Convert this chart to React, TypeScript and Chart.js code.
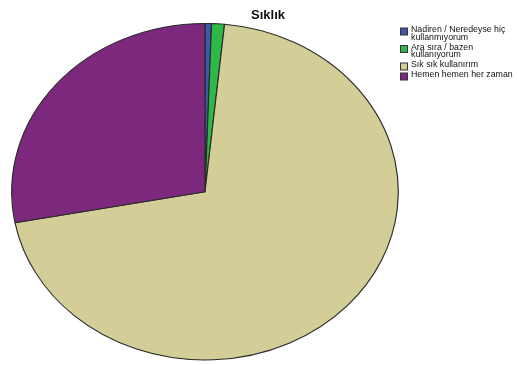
import React, { useEffect, useRef } from "react";
import { Chart, registerables } from "chart.js";

Chart.register(...registerables);

// Survey answer categories and their response counts
const categories: string[] = [
  "Nadiren / Neredeyse hiç kullanmıyorum",
  "Ara sıra / bazen kullanıyorum",
  "Sık sık kullanırım",
  "Hemen hemen her zaman",
];
const counts: number[] = [1, 2, 131, 52];
const sliceColors: string[] = ["#3E58AC", "#2EB848", "#D3CE97", "#7C287D"];
const chartTitle = "Sıklık";

// Pie geometry: vertical radius and horizontal stretch to get an elliptical pie
const RADIUS_Y = 168.3;
const RADIUS_X = 193.3;

const ellipsePlugin = {
  id: "ellipsePie",
  beforeDatasetsDraw(chart: any) {
    const arc = chart.getDatasetMeta(0).data[0];
    if (!arc) return;
    const { x, y } = arc;
    const ctx = chart.ctx;
    ctx.save();
    ctx.translate(x, y);
    ctx.scale(RADIUS_X / RADIUS_Y, 1);
    ctx.translate(-x, -y);
  },
  afterDatasetsDraw(chart: any) {
    chart.ctx.restore();
  },
};

// Title and legend drawn at fixed spots beside the pie
const annotationPlugin = {
  id: "titleLegend",
  afterDraw(chart: any) {
    const ctx: CanvasRenderingContext2D = chart.ctx;
    ctx.save();
    ctx.fillStyle = "#111";
    ctx.font = "bold 13px 'Liberation Sans', Arial, sans-serif";
    ctx.textAlign = "center";
    ctx.textBaseline = "alphabetic";
    ctx.fillText(chartTitle, 268, 18.5);

    ctx.font = "8.8px 'Liberation Sans', Arial, sans-serif";
    ctx.textAlign = "left";
    const textX = 411;
    const maxW = chart.width - textX - 1;
    const lineH = 7.5;
    let baseline = 32;
    categories.forEach((label, i) => {
      const words = label.split(" ");
      const lines: string[] = [];
      let cur = "";
      words.forEach((w) => {
        const test = cur ? cur + " " + w : w;
        if (cur && ctx.measureText(test).width > maxW) {
          lines.push(cur);
          cur = w;
        } else cur = test;
      });
      if (cur) lines.push(cur);
      ctx.fillStyle = sliceColors[i];
      ctx.fillRect(400.5, baseline - 4, 7, 7);
      ctx.strokeStyle = "#333";
      ctx.lineWidth = 1;
      ctx.strokeRect(400.5, baseline - 4, 7, 7);
      ctx.fillStyle = "#111";
      lines.forEach((ln, j) => {
        ctx.fillText(ln, textX, baseline + j * lineH);
      });
      baseline += (lines.length - 1) * lineH + 10;
    });
    ctx.restore();
  },
};

export default function App() {
  const canvasRef = useRef<HTMLCanvasElement>(null);

  useEffect(() => {
    document.body.style.margin = "0";
    const canvas = canvasRef.current;
    if (!canvas) return;
    const chart = new Chart(canvas, {
      type: "pie",
      data: {
        labels: categories,
        datasets: [
          {
            data: counts,
            backgroundColor: sliceColors,
            borderColor: "#2a2a2a",
            borderWidth: 1,
          },
        ],
      },
      options: {
        animation: false,
        responsive: false,
        radius: RADIUS_Y,
        layout: { padding: { left: 0, right: 107, top: 23, bottom: 4.6 } },
        plugins: {
          legend: { display: false },
          title: { display: false },
          tooltip: { enabled: false },
        },
      } as any,
      plugins: [ellipsePlugin, annotationPlugin],
    });
    return () => chart.destroy();
  }, []);

  return (
    <div style={{ position: "absolute", left: 0, top: 0, width: 517, height: 365, background: "#fff" }}>
      <canvas ref={canvasRef} width={517} height={365} style={{ width: 517, height: 365 }} />
    </div>
  );
}
